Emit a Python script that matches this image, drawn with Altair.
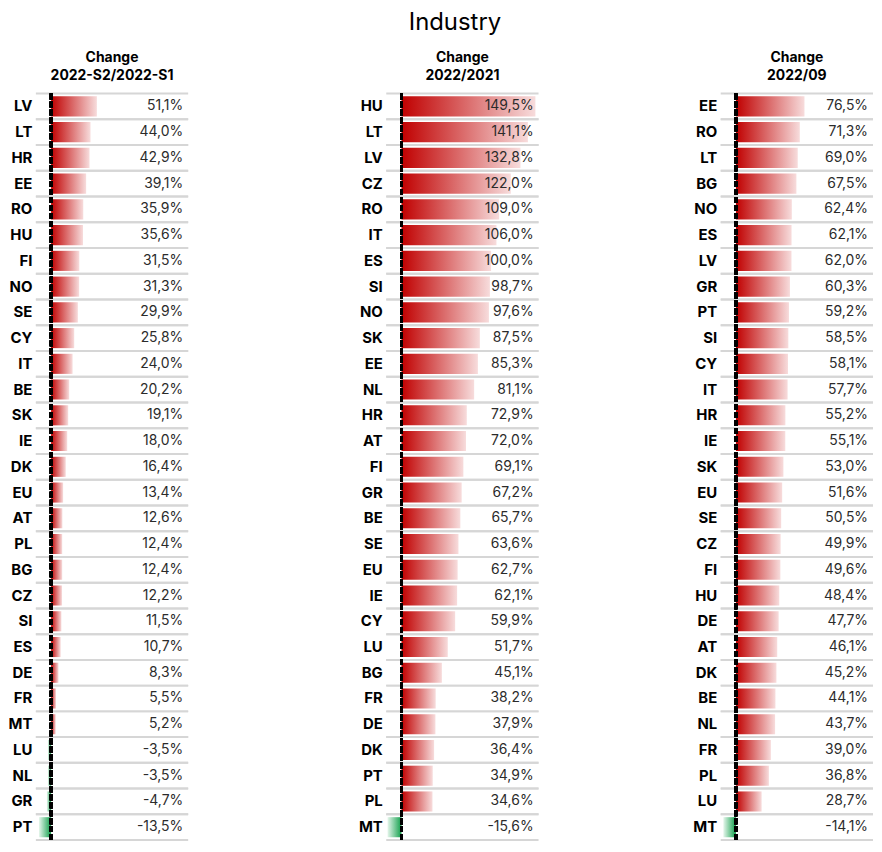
import altair as alt
import pandas as pd

TITLE = "Industry"

p1_title = ["Change", "2022-S2/2022-S1"]
p1_countries = ["LV", "LT", "HR", "EE", "RO", "HU", "FI", "NO", "SE", "CY", "IT", "BE", "SK", "IE", "DK",
                "EU", "AT", "PL", "BG", "CZ", "SI", "ES", "DE", "FR", "MT", "LU", "NL", "GR", "PT"]
p1_values = [51.1, 44.0, 42.9, 39.1, 35.9, 35.6, 31.5, 31.3, 29.9, 25.8, 24.0, 20.2, 19.1, 18.0, 16.4,
             13.4, 12.6, 12.4, 12.4, 12.2, 11.5, 10.7, 8.3, 5.5, 5.2, -3.5, -3.5, -4.7, -13.5]

p2_title = ["Change", "2022/2021"]
p2_countries = ["HU", "LT", "LV", "CZ", "RO", "IT", "ES", "SI", "NO", "SK", "EE", "NL", "HR", "AT", "FI",
                "GR", "BE", "SE", "EU", "IE", "CY", "LU", "BG", "FR", "DE", "DK", "PT", "PL", "MT"]
p2_values = [149.5, 141.1, 132.8, 122.0, 109.0, 106.0, 100.0, 98.7, 97.6, 87.5, 85.3, 81.1, 72.9, 72.0, 69.1,
             67.2, 65.7, 63.6, 62.7, 62.1, 59.9, 51.7, 45.1, 38.2, 37.9, 36.4, 34.9, 34.6, -15.6]

p3_title = ["Change", "2022/09"]
p3_countries = ["EE", "RO", "LT", "BG", "NO", "ES", "LV", "GR", "PT", "SI", "CY", "IT", "HR", "IE", "SK",
                "EU", "SE", "CZ", "FI", "HU", "DE", "AT", "DK", "BE", "NL", "FR", "PL", "LU", "MT"]
p3_values = [76.5, 71.3, 69.0, 67.5, 62.4, 62.1, 62.0, 60.3, 59.2, 58.5, 58.1, 57.7, 55.2, 55.1, 53.0,
             51.6, 50.5, 49.9, 49.6, 48.4, 47.7, 46.1, 45.2, 44.1, 43.7, 39.0, 36.8, 28.7, -14.1]

W = 153
H = 750
FONT = "Inter"

red_grad = alt.Gradient(
    gradient="linear",
    stops=[alt.GradientStop(color="#c00000", offset=0),
           alt.GradientStop(color="#f7dcdc", offset=1)],
    x1=0, x2=1, y1=0, y2=0,
)
green_grad = alt.Gradient(
    gradient="linear",
    stops=[alt.GradientStop(color="#12a04c", offset=0),
           alt.GradientStop(color="#e6f6ec", offset=1)],
    x1=1, x2=0, y1=0, y2=0,
)


def panel(title, countries, values):
    df = pd.DataFrame({
        "country": countries,
        "value": values,
        "label": [f"{v:.1f}".replace(".", ",") + "%" for v in values],
    })
    xscale = alt.Scale(domain=[-17, 153], nice=False, zero=False)
    yscale = alt.Scale(paddingInner=0, paddingOuter=0)
    y = alt.Y("country:N", sort=None, scale=yscale,
              axis=alt.Axis(title=None, domain=False, ticks=False, labelPadding=4,
                            labelFont=FONT, labelFontSize=15, labelFontWeight="bold",
                            labelColor="#000000", grid=False))
    base = alt.Chart(df)
    sep_top = base.mark_rule(color="#d6d6d6", strokeWidth=2).encode(
        y=alt.Y("country:N", sort=None, bandPosition=0),
        x=alt.value(0), x2=alt.value(W))
    sep_bot = base.mark_rule(color="#d6d6d6", strokeWidth=2).encode(
        y=alt.Y("country:N", sort=None, bandPosition=1),
        x=alt.value(0), x2=alt.value(W))
    pos = base.transform_filter(alt.datum.value >= 0).mark_bar(
        color=red_grad, height={"band": 0.78}).encode(
        y=y, x=alt.X("value:Q", scale=xscale, axis=None), x2=alt.datum(0))
    neg = base.transform_filter(alt.datum.value < 0).mark_bar(
        color=green_grad, height={"band": 0.78}).encode(
        y=alt.Y("country:N", sort=None), x=alt.X("value:Q", scale=xscale, axis=None), x2=alt.datum(0))
    txt = base.mark_text(align="right", baseline="middle", font=FONT, fontSize=14,
                         color="#2b2b2b").encode(
        y=alt.Y("country:N", sort=None), x=alt.value(W - 5), text="label:N")
    zero = base.mark_rule(color="#000000", strokeWidth=2.5, strokeDash=[6, 2]).encode(
        x=alt.datum(0))
    return alt.layer(sep_top, sep_bot, pos, neg, zero, txt).properties(
        width=W, height=H,
        title=alt.TitleParams(title, font=FONT, fontSize=14, fontWeight="bold",
                              color="#000000", lineHeight=18, offset=9,
                              anchor="middle", frame="group"),
    )


c1 = panel(p1_title, p1_countries, p1_values)
c2 = panel(p2_title, p2_countries, p2_values)
c3 = panel(p3_title, p3_countries, p3_values)

chart = alt.hconcat(alt.hconcat(c1, c2, spacing=170), c3, spacing=154).properties(
    title=alt.TitleParams(TITLE, font=FONT, fontSize=24, fontWeight="normal",
                          color="#000000", anchor="middle", offset=17, dx=14),
    padding={"left": 0, "top": 0, "right": 0, "bottom": 0},
).configure_view(stroke=None).resolve_scale(y="independent")

chart.save("out.html", embed_options={"renderer": "svg", "actions": False})
